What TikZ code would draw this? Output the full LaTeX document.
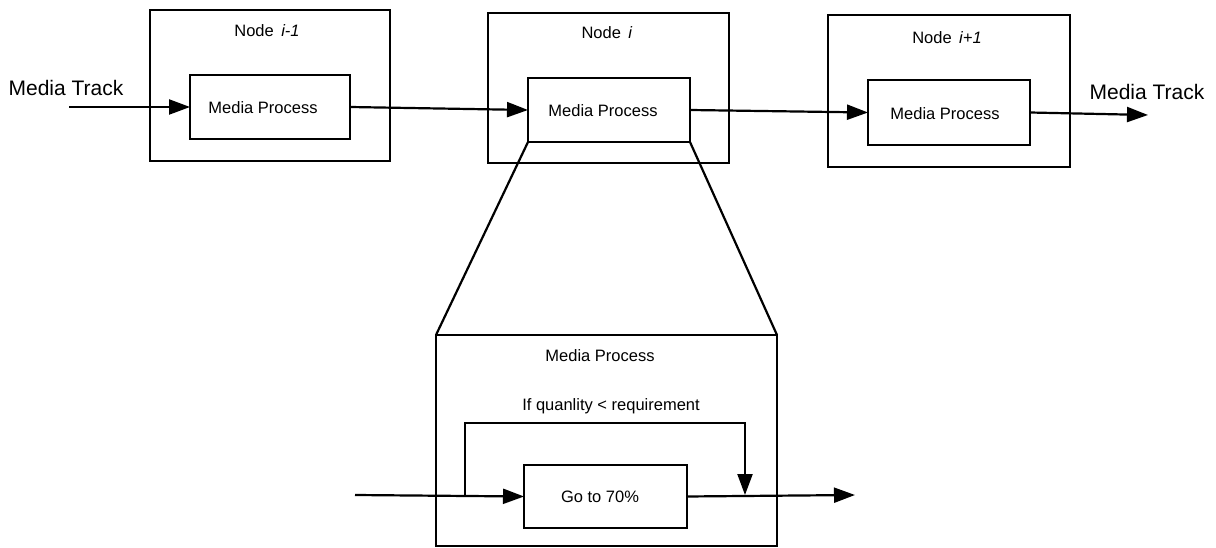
\documentclass[tikz,border=0pt]{standalone}
\usepackage{fontspec}
\setmainfont{Liberation Sans}
\usetikzlibrary{arrows.meta}
\begin{document}
\begin{tikzpicture}[x=1pt,y=-1pt,
  every node/.style={font=\fontsize{16.5}{19}\selectfont},
  box/.style={draw,line width=2.2pt,inner sep=0pt,outer sep=0pt},
  lbl/.style={inner sep=0pt},
  big/.style={inner sep=0pt,font=\fontsize{21}{25}\selectfont},
  line/.style={line width=2.2pt},
  arr/.style={line width=2.2pt,-{Triangle[length=21pt,width=15pt]}}]
\useasboundingbox (0,0) rectangle (1216,548);
% top nodes
\node[box,minimum width=240pt,minimum height=151pt] (n1) at (270,85.5) {};
\node[box,minimum width=160pt,minimum height=64pt] (mp1) at (270,107) {};
\node[lbl] (l1) at (267,31) {Node\hspace{0.45em}\textit{i-1}};
\node[lbl] (t1) at (263,108) {Media Process};
\node[box,minimum width=241pt,minimum height=150pt] (n2) at (608.5,88) {};
\node[box,minimum width=162pt,minimum height=64pt] (mp2) at (609,110) {};
\node[lbl] (l2) at (607,33) {Node\hspace{0.45em}\textit{i}};
\node[lbl] (t2) at (603,111) {Media Process};
\node[box,minimum width=242pt,minimum height=152pt] (n3) at (949,91) {};
\node[box,minimum width=162pt,minimum height=65pt] (mp3) at (949,112.5) {};
\node[lbl] (l3) at (947,38) {Node\hspace{0.45em}\textit{i+1}};
\node[lbl] (t3) at (945,114) {Media Process};
\node[big] (mtl) at (66,88) {Media Track};
\node[big] (mtr) at (1147,92) {Media Track};
\coordinate (in1) at (69,107);
\coordinate (out3) at (1148,115);
\draw[arr] (in1) -- (mp1.west);
\draw[arr] (mp1.east) -- (mp2.west);
\draw[arr] (mp2.east) -- (mp3.west);
\draw[arr] (mp3.east) -- (out3);
% zoom box
\node[box,minimum width=341pt,minimum height=211pt] (bx) at (606.5,440.5) {};
\draw[line] (mp2.south west) -- (bx.north west);
\draw[line] (mp2.south east) -- (bx.north east);
\node[lbl] (bl) at (600,356) {Media Process};
\node[lbl] (cond) at (611,406) {If quanlity < requirement};
\node[box,minimum width=163pt,minimum height=63pt] (go) at (605.5,496.5) {};
\node[lbl] (gt) at (600,497) {Go to 70\%};
\coordinate (bin) at (355,495);
\coordinate (split) at (465,495);
\coordinate (join) at (745,495);
\coordinate (bout) at (855,495);
\draw[arr] (bin) -- (go.west);
\draw[arr] (go.east) -- (bout);
\draw[arr] (split) |- (745,423) -- (join);
\end{tikzpicture}
\end{document}
